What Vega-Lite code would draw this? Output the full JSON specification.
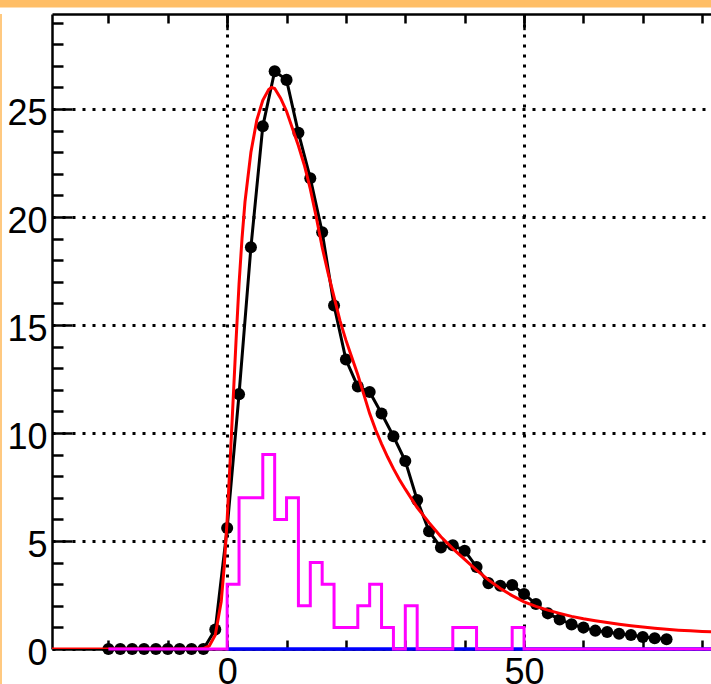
{
  "$schema": "https://vega.github.io/schema/vega-lite/v6.json",
  "background": "white",
  "padding": 0,
  "config": {"view": {"stroke": null}, "concat": {"spacing": 0}},
  "datasets": {
    "dots": [
      {"x": -20, "y": 0}, {"x": -18, "y": 0}, {"x": -16, "y": 0}, {"x": -14, "y": 0}, {"x": -12, "y": 0},
      {"x": -10, "y": 0}, {"x": -8, "y": 0}, {"x": -6, "y": 0}, {"x": -4, "y": 0}, {"x": -2, "y": 0.9},
      {"x": 0, "y": 5.6}, {"x": 2, "y": 11.8}, {"x": 4, "y": 18.6}, {"x": 6, "y": 24.2}, {"x": 8, "y": 26.75},
      {"x": 10, "y": 26.35}, {"x": 12, "y": 23.9}, {"x": 14, "y": 21.8}, {"x": 16, "y": 19.3}, {"x": 18, "y": 15.9},
      {"x": 20, "y": 13.4}, {"x": 22, "y": 12.15}, {"x": 24, "y": 11.9}, {"x": 26, "y": 10.9}, {"x": 28, "y": 9.85},
      {"x": 30, "y": 8.7}, {"x": 32, "y": 6.9}, {"x": 34, "y": 5.45}, {"x": 36, "y": 4.7}, {"x": 38, "y": 4.8},
      {"x": 40, "y": 4.55}, {"x": 42, "y": 3.8}, {"x": 44, "y": 3.05}, {"x": 46, "y": 2.93}, {"x": 48, "y": 2.96},
      {"x": 50, "y": 2.55}, {"x": 52, "y": 2.08}, {"x": 54, "y": 1.65}, {"x": 56, "y": 1.37}, {"x": 58, "y": 1.14},
      {"x": 60, "y": 0.99}, {"x": 62, "y": 0.85}, {"x": 64, "y": 0.79}, {"x": 66, "y": 0.71}, {"x": 68, "y": 0.65},
      {"x": 70, "y": 0.56}, {"x": 72, "y": 0.5}, {"x": 74, "y": 0.45}
    ],
    "fit": [
      {"x": -29.5, "y": 0}, {"x": -5, "y": 0}, {"x": -4, "y": 0.02}, {"x": -3, "y": 0.15}, {"x": -2, "y": 0.65},
      {"x": -1, "y": 2.2}, {"x": -0.5, "y": 3.8}, {"x": 0, "y": 6.0}, {"x": 0.5, "y": 8.7}, {"x": 1, "y": 11.5},
      {"x": 1.5, "y": 14.3}, {"x": 2, "y": 16.9}, {"x": 2.5, "y": 19.0}, {"x": 3, "y": 20.7}, {"x": 4, "y": 23.0},
      {"x": 5, "y": 24.5}, {"x": 6, "y": 25.4}, {"x": 7, "y": 25.9}, {"x": 7.5, "y": 26.0}, {"x": 8, "y": 25.95},
      {"x": 9, "y": 25.5}, {"x": 10, "y": 24.9}, {"x": 11, "y": 24.1}, {"x": 12, "y": 23.3}, {"x": 13, "y": 22.4},
      {"x": 14, "y": 21.3}, {"x": 15, "y": 20.0}, {"x": 16, "y": 18.6}, {"x": 17, "y": 17.4}, {"x": 18, "y": 16.3},
      {"x": 19, "y": 15.2}, {"x": 20, "y": 14.3}, {"x": 21, "y": 13.5}, {"x": 22, "y": 12.7}, {"x": 23, "y": 11.8},
      {"x": 24, "y": 10.9}, {"x": 25, "y": 10.15}, {"x": 26, "y": 9.5}, {"x": 27, "y": 8.9}, {"x": 28, "y": 8.35},
      {"x": 29, "y": 7.85}, {"x": 30, "y": 7.4}, {"x": 32, "y": 6.55}, {"x": 34, "y": 5.85}, {"x": 36, "y": 5.2},
      {"x": 38, "y": 4.65}, {"x": 40, "y": 4.15}, {"x": 42, "y": 3.65}, {"x": 44, "y": 3.2}, {"x": 46, "y": 2.8},
      {"x": 48, "y": 2.47}, {"x": 50, "y": 2.18}, {"x": 52, "y": 1.97}, {"x": 54, "y": 1.8}, {"x": 56, "y": 1.65},
      {"x": 58, "y": 1.51}, {"x": 60, "y": 1.4}, {"x": 62, "y": 1.31}, {"x": 64, "y": 1.23}, {"x": 66, "y": 1.15},
      {"x": 68, "y": 1.08}, {"x": 70, "y": 1.02}, {"x": 72, "y": 0.96}, {"x": 74, "y": 0.91}, {"x": 76, "y": 0.87},
      {"x": 78, "y": 0.84}, {"x": 80, "y": 0.81}, {"x": 83, "y": 0.78}
    ],
    "hist": [
      {"x": -20, "y": 0}, {"x": 0, "y": 3}, {"x": 2, "y": 7}, {"x": 4, "y": 7}, {"x": 6, "y": 9},
      {"x": 8, "y": 6}, {"x": 10, "y": 7}, {"x": 12, "y": 2}, {"x": 14, "y": 4}, {"x": 16, "y": 3},
      {"x": 18, "y": 1}, {"x": 20, "y": 1}, {"x": 22, "y": 2}, {"x": 24, "y": 3}, {"x": 26, "y": 1},
      {"x": 28, "y": 0}, {"x": 30, "y": 2}, {"x": 32, "y": 0}, {"x": 38, "y": 1}, {"x": 40, "y": 1},
      {"x": 42, "y": 0}, {"x": 48, "y": 1}, {"x": 50, "y": 0}, {"x": 83, "y": 0}
    ],
    "base": [{"x": 0, "y": 0}, {"x": 83, "y": 0}]
  },
  "vconcat": [
    {
      "width": 720, "height": 7.5,
      "data": {"values": [{}]},
      "mark": {"type": "rect", "color": "#FFBE66"},
      "encoding": {}
    },
    {
      "spacing": 0,
      "hconcat": [
        {
          "width": 2, "height": 690,
          "data": {"values": [{}]},
          "mark": {"type": "rect", "color": "#FFC980"},
          "encoding": {}
        },
        {
          "width": 668, "height": 635,
          "resolve": {"axis": {"x": "independent", "y": "independent"}},
          "layer": [
            {
              "data": {"name": "base"},
              "mark": {"type": "line", "color": "#0000FF", "strokeWidth": 3.5},
              "encoding": {
                "x": {"field": "x", "type": "quantitative", "scale": {"domain": [-29.5, 83], "nice": false, "zero": false},
                  "axis": {"orient": "bottom", "values": [0, 50], "ticks": false, "domain": true, "domainColor": "black", "domainWidth": 2.5,
                    "labels": true, "labelFontSize": 36, "labelFont": "Liberation Sans", "labelColor": "black", "labelPadding": 6.5, "labelFlush": false,
                    "grid": true, "gridColor": "black", "gridDash": [3, 7], "gridWidth": 3, "gridOpacity": 1, "title": null}},
                "y": {"field": "y", "type": "quantitative", "scale": {"domain": [0, 29.4], "nice": false, "zero": false},
                  "axis": {"orient": "left", "values": [0, 5, 10, 15, 20, 25], "ticks": false, "domain": true, "domainColor": "black", "domainWidth": 2.5,
                    "labels": true, "labelFontSize": 36, "labelFont": "Liberation Sans", "labelColor": "black", "labelPadding": 5, "labelOffset": 4.4,
                    "minExtent": 49.5, "grid": true, "gridColor": "black", "gridDash": [3, 7], "gridWidth": 3, "gridOpacity": 1, "title": null}}
              }
            },
            {
              "data": {"name": "dots"},
              "mark": {"type": "line", "color": "black", "strokeWidth": 3},
              "encoding": {
                "x": {"field": "x", "type": "quantitative", "scale": {"domain": [-29.5, 83], "nice": false, "zero": false},
                  "axis": {"orient": "bottom", "values": [-20, -10, 0, 10, 20, 30, 40, 50, 60, 70, 80], "offset": -9, "tickSize": 9, "tickWidth": 2.5, "tickColor": "black",
                    "domain": false, "labels": false, "grid": false, "title": null}},
                "y": {"field": "y", "type": "quantitative", "scale": {"domain": [0, 29.4], "nice": false, "zero": false},
                  "axis": {"orient": "left", "values": [5, 10, 15, 20, 25], "offset": -20, "tickSize": 20, "tickWidth": 2.5, "tickColor": "black",
                    "domain": false, "labels": false, "grid": false, "title": null}}
              }
            },
            {
              "data": {"name": "dots"},
              "mark": {"type": "circle", "color": "black", "size": 145, "opacity": 1},
              "encoding": {
                "x": {"field": "x", "type": "quantitative", "scale": {"domain": [-29.5, 83], "nice": false, "zero": false},
                  "axis": {"orient": "top", "ticks": false, "domain": true, "domainColor": "black", "domainWidth": 2.5,
                    "labels": false, "grid": false, "minExtent": 5.8, "title": null}},
                "y": {"field": "y", "type": "quantitative", "scale": {"domain": [0, 29.4], "nice": false, "zero": false},
                  "axis": {"orient": "left", "values": [1, 2, 3, 4, 6, 7, 8, 9, 11, 12, 13, 14, 16, 17, 18, 19, 21, 22, 23, 24, 26, 27, 28, 29],
                    "offset": -11, "tickSize": 11, "tickWidth": 2.5, "tickColor": "black",
                    "domain": false, "labels": false, "grid": false, "title": null}}
              }
            },
            {
              "data": {"name": "fit"},
              "mark": {"type": "line", "color": "#FF0000", "strokeWidth": 3, "clip": true},
              "encoding": {
                "x": {"field": "x", "type": "quantitative", "scale": {"domain": [-29.5, 83], "nice": false, "zero": false},
                  "axis": {"orient": "top", "values": [-20, -10, 0, 10, 20, 30, 40, 50, 60, 70, 80], "offset": -9, "tickSize": 9, "tickWidth": 2.5, "tickColor": "black",
                    "domain": false, "labels": false, "grid": false, "title": null}},
                "y": {"field": "y", "type": "quantitative", "scale": {"domain": [0, 29.4], "nice": false, "zero": false}, "axis": null}
              }
            },
            {
              "data": {"name": "hist"},
              "mark": {"type": "line", "color": "#FF00FF", "strokeWidth": 3, "interpolate": "step-after"},
              "encoding": {
                "x": {"field": "x", "type": "quantitative", "scale": {"domain": [-29.5, 83], "nice": false, "zero": false},
                  "axis": {"orient": "top", "values": [0, 50], "offset": -15.7, "tickSize": 15.7, "tickWidth": 2.5, "tickColor": "black",
                    "domain": false, "labels": false, "grid": false, "title": null}},
                "y": {"field": "y", "type": "quantitative", "scale": {"domain": [0, 29.4], "nice": false, "zero": false}, "axis": null}
              }
            }
          ]
        }
      ]
    }
  ],
  "spacing": 0
}
